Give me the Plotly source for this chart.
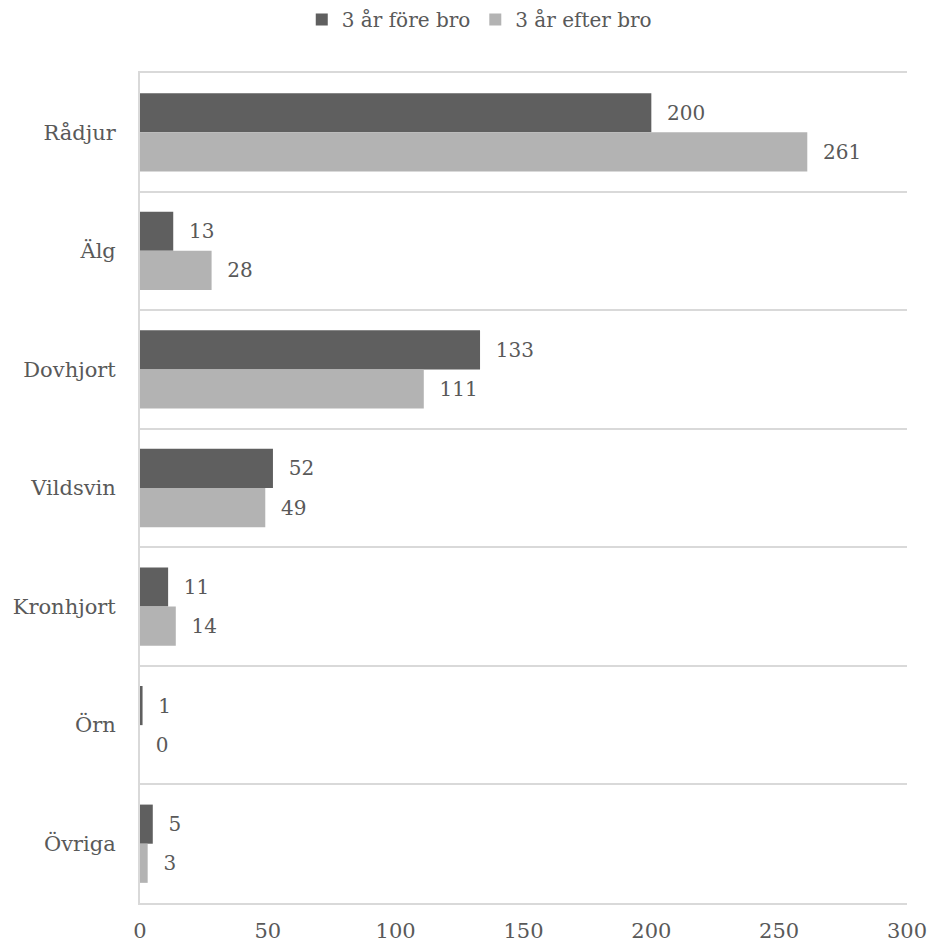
import plotly.graph_objects as go

# Viltolyckor per art, tre år före och tre år efter bron
arter = ["Rådjur", "Älg", "Dovhjort", "Vildsvin", "Kronhjort", "Örn", "Övriga"]
fore_bro = [200, 13, 133, 52, 11, 1, 5]
efter_bro = [261, 28, 111, 49, 14, 0, 3]
x_ticks = [0, 50, 100, 150, 200, 250, 300]

TEXT = "#595959"
FONT = "DejaVu Serif, Liberation Serif, serif"
GRID = "#d9d9d9"

fig = go.Figure()
fig.add_trace(go.Bar(
    y=arter, x=fore_bro, orientation="h", name="3 år före bro",
    marker=dict(color="#5f5f5f", line=dict(width=0)),
    text=fore_bro, texttemplate="\u00a0\u00a0%{x}",
    textposition="outside", cliponaxis=False,
    textfont=dict(family=FONT, size=20, color=TEXT),
))
fig.add_trace(go.Bar(
    y=arter, x=efter_bro, orientation="h", name="3 år efter bro",
    marker=dict(color="#b3b3b3", line=dict(width=0)),
    text=efter_bro, texttemplate="\u00a0\u00a0%{x}",
    textposition="outside", cliponaxis=False,
    textfont=dict(family=FONT, size=20, color=TEXT),
))

fig.update_layout(
    width=927, height=947,
    margin=dict(l=140, r=20, t=73, b=44, autoexpand=False),
    paper_bgcolor="white", plot_bgcolor="white",
    barmode="group", bargap=0.34, bargroupgap=0,
    font=dict(family=FONT, color=TEXT, size=20),
    legend=dict(
        orientation="h", xref="container", yref="container",
        x=0.517, xanchor="center", y=1.0, yanchor="top",
        font=dict(family=FONT, size=20, color=TEXT),
        itemwidth=30, traceorder="normal",
    ),
    xaxis=dict(
        range=[0, 300], tickvals=x_ticks, showgrid=False, zeroline=False,
        showline=True, mirror=True, linecolor=GRID, linewidth=2,
        ticks="", ticklabelstandoff=8, automargin=False,
        ticklabeloverflow="allow",
        tickfont=dict(family=FONT, size=21, color=TEXT),
    ),
    yaxis=dict(
        type="category", autorange="reversed", tickson="boundaries",
        showgrid=True, gridcolor=GRID, gridwidth=2,
        showline=True, linecolor=GRID, linewidth=2,
        ticks="", ticklabelstandoff=18, automargin=False,
        tickfont=dict(family=FONT, size=21, color=TEXT),
    ),
)

fig.write_html("out.html")
